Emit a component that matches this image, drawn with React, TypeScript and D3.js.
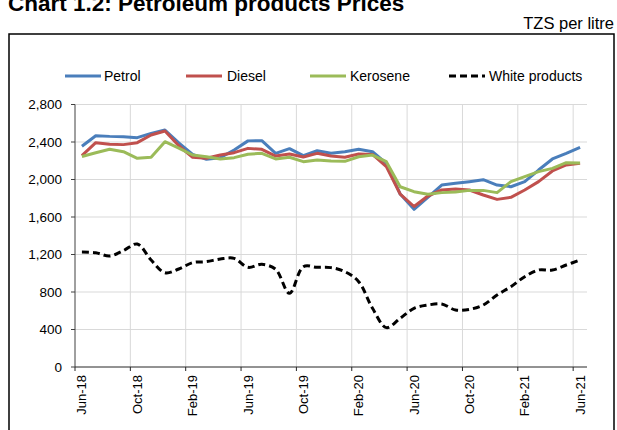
import React from "react";
import * as d3 from "d3";

const months = [
  "Jun-18","Jul-18","Aug-18","Sep-18","Oct-18","Nov-18","Dec-18","Jan-19","Feb-19","Mar-19","Apr-19","May-19",
  "Jun-19","Jul-19","Aug-19","Sep-19","Oct-19","Nov-19","Dec-19","Jan-20","Feb-20","Mar-20","Apr-20","May-20",
  "Jun-20","Jul-20","Aug-20","Sep-20","Oct-20","Nov-20","Dec-20","Jan-21","Feb-21","Mar-21","Apr-21","May-21","Jun-21",
];

const petrol = [
  2355, 2467, 2460, 2457, 2446, 2492, 2528, 2390, 2268, 2215, 2233, 2315,
  2412, 2414, 2279, 2329, 2254, 2307, 2279, 2297, 2322, 2297, 2172, 1845,
  1682, 1810, 1941, 1959, 1977, 1998, 1941, 1923, 1977, 2101, 2219, 2279, 2343,
];
const diesel = [
  2254, 2393, 2375, 2372, 2393, 2475, 2517, 2360, 2237, 2227, 2261, 2286,
  2332, 2322, 2250, 2272, 2240, 2279, 2250, 2237, 2272, 2268, 2137, 1845,
  1712, 1824, 1888, 1899, 1888, 1835, 1788, 1810, 1888, 1977, 2091, 2155, 2172,
];
const kerosene = [
  2245, 2286, 2322, 2297, 2226, 2237, 2403, 2335, 2261, 2243, 2219, 2233,
  2270, 2279, 2219, 2237, 2190, 2208, 2197, 2194, 2243, 2261, 2190, 1923,
  1870, 1842, 1860, 1867, 1884, 1884, 1860, 1977, 2030, 2084, 2119, 2179, 2175,
];
const whiteProducts = [
  1227, 1219, 1184, 1241, 1312, 1141, 1006, 1045, 1113, 1124, 1152, 1159,
  1063, 1095, 1042, 786, 1070, 1063, 1060, 1017, 910, 626, 420, 519,
  626, 661, 672, 608, 615, 661, 768, 857, 963, 1035, 1035, 1088, 1141,
];

const yTicks = [0, 400, 800, 1200, 1600, 2000, 2400, 2800];
const xTickLabels = ["Jun-18","Oct-18","Feb-19","Jun-19","Oct-19","Feb-20","Jun-20","Oct-20","Feb-21","Jun-21"];

const seriesList = [
  { name: "Petrol", values: petrol, color: "#4a7ebb", dash: "", smooth: false },
  { name: "Diesel", values: diesel, color: "#c0504d", dash: "", smooth: false },
  { name: "Kerosene", values: kerosene, color: "#9bbb59", dash: "", smooth: false },
  { name: "White products", values: whiteProducts, color: "#000000", dash: "7,4", smooth: true },
];

const legendPos = [
  { lx: 65, tx: 104 },
  { lx: 186, tx: 227 },
  { lx: 310, tx: 350 },
  { lx: 449, tx: 489 },
];

const FONT = "'Liberation Sans', Arial, sans-serif";

export default function App() {
  const W = 617, H = 430;
  const left = 75, right = 587, top = 104.5, bottom = 367;
  const x = d3.scaleBand<string>().domain(months).range([left, right]);
  const y = d3.scaleLinear().domain([0, 2800]).range([bottom, top]);
  const cx = (i: number) => (x(months[i]) as number) + x.bandwidth() / 2;

  return (
    <svg width={W} height={H} style={{ position: "absolute", left: 0, top: 0, background: "#fff" }} fontFamily={FONT}>
      <rect x={0} y={0} width={W} height={H} fill="#fff" />
      <text x={8} y={11} fontSize={22.5} fontWeight="bold" fill="#000">Chart 1.2: Petroleum products Prices</text>
      <text x={614} y={29} fontSize={16.5} textAnchor="end" fill="#000">TZS per litre</text>
      <rect x={9} y={34} width={605} height={430} fill="none" stroke="#000" strokeWidth={1.5} />

      {/* gridlines */}
      {yTicks.filter(t => t > 0).map(t => (
        <line key={"h" + t} x1={left} x2={right} y1={y(t)} y2={y(t)} stroke="#d9d9d9" strokeWidth={1} />
      ))}
      {xTickLabels.map(m => {
        const px = x(m) as number;
        return m === "Jun-18" ? null : (
          <line key={"v" + m} x1={px} x2={px} y1={top} y2={bottom} stroke="#d9d9d9" strokeWidth={1} />
        );
      })}

      {/* axes */}
      <line x1={left} x2={left} y1={top} y2={bottom} stroke="#404040" strokeWidth={1} />
      <line x1={left} x2={right} y1={bottom} y2={bottom} stroke="#262626" strokeWidth={1} />
      {yTicks.map(t => (
        <g key={"yt" + t}>
          <line x1={left - 4} x2={left} y1={y(t)} y2={y(t)} stroke="#404040" />
          <text x={62} y={y(t)} dy="0.35em" fontSize={13.5} textAnchor="end" fill="#000">{d3.format(",")(t)}</text>
        </g>
      ))}
      {xTickLabels.map(m => {
        const px = x(m) as number;
        const lx = px + x.bandwidth() / 2;
        return (
          <g key={"xt" + m}>
            <line x1={px} x2={px} y1={bottom} y2={bottom + 4} stroke="#262626" />
            <text transform={`translate(${lx},${bottom + 8}) rotate(-90)`} dy="0.35em" fontSize={13} textAnchor="end" fill="#000">{m}</text>
          </g>
        );
      })}

      {/* series */}
      {seriesList.map(s => {
        const line = d3.line<number>()
          .x((_, i) => cx(i))
          .y(v => y(v))
          .curve(s.smooth ? d3.curveCatmullRom.alpha(0.5) : d3.curveLinear);
        return (
          <path key={s.name} d={line(s.values) || ""} fill="none" stroke={s.color}
            strokeWidth={3} strokeDasharray={s.dash || undefined} strokeLinejoin="round" />
        );
      })}

      {/* legend */}
      {seriesList.map((s, i) => (
        <g key={"lg" + s.name}>
          <line x1={legendPos[i].lx} x2={legendPos[i].lx + 36} y1={76} y2={76} stroke={s.color}
            strokeWidth={3} strokeDasharray={s.dash ? "7,4" : undefined} />
          <text x={legendPos[i].tx} y={76} dy="0.35em" fontSize={14} fill="#000">{s.name}</text>
        </g>
      ))}
    </svg>
  );
}
